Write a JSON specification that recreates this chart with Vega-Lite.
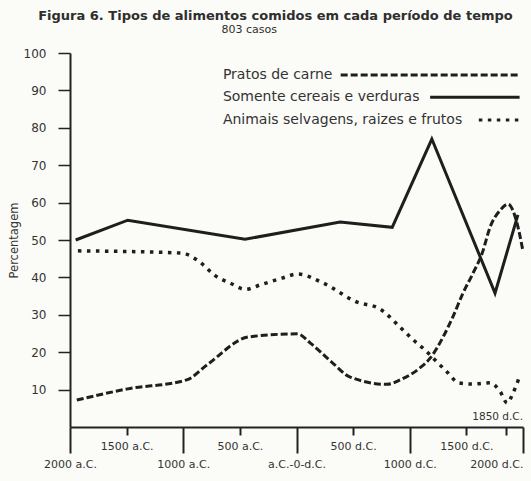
{
  "$schema": "https://vega.github.io/schema/vega-lite/v6.json",
  "width": 453,
  "height": 374,
  "autosize": {"type": "none"},
  "padding": {"left": 70, "top": 53, "right": 8, "bottom": 54},
  "background": "#fbfbf8",
  "title": {
    "text": "Figura 6. Tipos de alimentos comidos em cada período de tempo",
    "subtitle": "803 casos\u00a0\u00a0\u00a0\u00a0\u00a0\u00a0\u00a0\u00a0\u00a0\u00a0\u00a0\u00a0\u00a0\u00a0\u00a0\u200b",
    "font": "DejaVu Sans",
    "fontSize": 13,
    "fontWeight": "bold",
    "color": "#2e2e2e",
    "subtitleFont": "DejaVu Sans",
    "subtitleFontSize": 11,
    "subtitleColor": "#2e2e2e",
    "subtitlePadding": 1,
    "anchor": "middle",
    "dx": -21,
    "offset": 12
  },
  "datasets": {
    "series": [
      {"serie": "Somente cereais e verduras", "ano": -1950, "valor": 50.0},
      {"serie": "Somente cereais e verduras", "ano": -1490, "valor": 55.3},
      {"serie": "Somente cereais e verduras", "ano": -455, "valor": 50.2},
      {"serie": "Somente cereais e verduras", "ano": 385, "valor": 54.8},
      {"serie": "Somente cereais e verduras", "ano": 845, "valor": 53.4},
      {"serie": "Somente cereais e verduras", "ano": 1195, "valor": 77.0},
      {"serie": "Somente cereais e verduras", "ano": 1753, "valor": 35.8},
      {"serie": "Somente cereais e verduras", "ano": 1955, "valor": 56.7},
      {"serie": "Pratos de carne", "ano": -1940, "valor": 7.2},
      {"serie": "Pratos de carne", "ano": -1490, "valor": 10.2},
      {"serie": "Pratos de carne", "ano": -970, "valor": 12.6},
      {"serie": "Pratos de carne", "ano": -790, "valor": 16.6},
      {"serie": "Pratos de carne", "ano": -420, "valor": 24.1},
      {"serie": "Pratos de carne", "ano": 10, "valor": 24.9},
      {"serie": "Pratos de carne", "ano": 120, "valor": 22.5},
      {"serie": "Pratos de carne", "ano": 320, "valor": 17.1},
      {"serie": "Pratos de carne", "ano": 470, "valor": 13.4},
      {"serie": "Pratos de carne", "ano": 800, "valor": 11.4},
      {"serie": "Pratos de carne", "ano": 915, "valor": 12.6},
      {"serie": "Pratos de carne", "ano": 1090, "valor": 15.8},
      {"serie": "Pratos de carne", "ano": 1180, "valor": 18.4},
      {"serie": "Pratos de carne", "ano": 1295, "valor": 24.1},
      {"serie": "Pratos de carne", "ano": 1380, "valor": 29.4},
      {"serie": "Pratos de carne", "ano": 1470, "valor": 35.8},
      {"serie": "Pratos de carne", "ano": 1560, "valor": 41.2},
      {"serie": "Pratos de carne", "ano": 1640, "valor": 46.5},
      {"serie": "Pratos de carne", "ano": 1710, "valor": 53.5},
      {"serie": "Pratos de carne", "ano": 1800, "valor": 58.0},
      {"serie": "Pratos de carne", "ano": 1868, "valor": 59.6},
      {"serie": "Pratos de carne", "ano": 1947, "valor": 54.5},
      {"serie": "Pratos de carne", "ano": 2000, "valor": 47.0},
      {"serie": "Animais selvagens, raizes e frutos", "ano": -1930, "valor": 47.1},
      {"serie": "Animais selvagens, raizes e frutos", "ano": -1010, "valor": 46.5},
      {"serie": "Animais selvagens, raizes e frutos", "ano": -880, "valor": 44.7},
      {"serie": "Animais selvagens, raizes e frutos", "ano": -700, "valor": 40.1},
      {"serie": "Animais selvagens, raizes e frutos", "ano": -587, "valor": 38.5},
      {"serie": "Animais selvagens, raizes e frutos", "ano": -450, "valor": 36.8},
      {"serie": "Animais selvagens, raizes e frutos", "ano": -320, "valor": 38.0},
      {"serie": "Animais selvagens, raizes e frutos", "ano": -128, "valor": 39.8},
      {"serie": "Animais selvagens, raizes e frutos", "ano": 10, "valor": 40.9},
      {"serie": "Animais selvagens, raizes e frutos", "ano": 235, "valor": 38.5},
      {"serie": "Animais selvagens, raizes e frutos", "ano": 535, "valor": 33.4},
      {"serie": "Animais selvagens, raizes e frutos", "ano": 735, "valor": 31.6},
      {"serie": "Animais selvagens, raizes e frutos", "ano": 915, "valor": 26.7},
      {"serie": "Animais selvagens, raizes e frutos", "ano": 1030, "valor": 23.3},
      {"serie": "Animais selvagens, raizes e frutos", "ano": 1135, "valor": 20.6},
      {"serie": "Animais selvagens, raizes e frutos", "ano": 1240, "valor": 17.4},
      {"serie": "Animais selvagens, raizes e frutos", "ano": 1340, "valor": 14.4},
      {"serie": "Animais selvagens, raizes e frutos", "ano": 1430, "valor": 11.8},
      {"serie": "Animais selvagens, raizes e frutos", "ano": 1550, "valor": 11.5},
      {"serie": "Animais selvagens, raizes e frutos", "ano": 1710, "valor": 11.8},
      {"serie": "Animais selvagens, raizes e frutos", "ano": 1800, "valor": 9.4},
      {"serie": "Animais selvagens, raizes e frutos", "ano": 1860, "valor": 6.4},
      {"serie": "Animais selvagens, raizes e frutos", "ano": 1912, "valor": 9.1},
      {"serie": "Animais selvagens, raizes e frutos", "ano": 1965, "valor": 13.1}
    ],
    "legenda": [
      {"serie": "Pratos de carne", "ano": -650, "ano2": 1970, "inicio": 390, "valor": 94.1},
      {"serie": "Somente cereais e verduras", "ano": -650, "ano2": 1970, "inicio": 1180, "valor": 88.2},
      {"serie": "Animais selvagens, raizes e frutos", "ano": -650, "ano2": 1970, "inicio": 1610, "valor": 82.1}
    ],
    "rotulos": [
      {"rotulo": "1850 d.C.", "ano": 2000, "valor": 2.7}
    ]
  },
  "encoding": {
    "x": {
      "field": "ano",
      "type": "quantitative",
      "scale": {"domain": [-2000, 2000], "nice": false, "zero": false},
      "axis": {
        "title": null,
        "values": [-2000, -1500, -1000, -500, 0, 500, 1000, 1500, 1850, 2000],
        "labelExpr": "datum.value == 0 ? 'a.C.-0-d.C.' : (datum.value == 1850 ? '' : (datum.value < 0 ? (-datum.value) + ' a.C.' : datum.value + ' d.C.'))",
        "tickSize": {"condition": {"test": "datum.value % 1000 == 0", "value": 26}, "value": 8},
        "labelAlign": {"condition": {"test": "datum.value == 2000", "value": "right"}, "value": "center"},
        "labelPadding": 5,
        "labelFont": "DejaVu Sans",
        "labelFontSize": 11,
        "labelColor": "#333333",
        "labelBound": false,
        "labelOverlap": false,
        "labelFlush": false,
        "domainColor": "#222222",
        "domainWidth": 2,
        "tickColor": "#222222",
        "tickWidth": 2,
        "grid": false
      }
    },
    "y": {
      "field": "valor",
      "type": "quantitative",
      "scale": {"domain": [0, 100], "nice": false},
      "axis": {
        "title": "Percentagem",
        "titleFont": "DejaVu Sans",
        "titleFontSize": 11.5,
        "titleFontWeight": "normal",
        "titleColor": "#333333",
        "titlePadding": 4,
        "values": [10, 20, 30, 40, 50, 60, 70, 80, 90, 100],
        "labelFont": "DejaVu Sans",
        "labelFontSize": 12,
        "labelColor": "#333333",
        "labelPadding": 12,
        "tickSize": 12,
        "tickColor": "#222222",
        "tickWidth": 1.5,
        "domainColor": "#222222",
        "domainWidth": 2,
        "grid": false
      }
    }
  },
  "layer": [
    {
      "data": {"name": "series"},
      "transform": [{"filter": "datum.serie == 'Somente cereais e verduras'"}],
      "mark": {"type": "line", "color": "#1e1e1e", "strokeWidth": 3, "interpolate": "linear", "strokeJoin": "miter"},
      "encoding": {}
    },
    {
      "data": {"name": "series"},
      "transform": [{"filter": "datum.serie == 'Pratos de carne'"}],
      "mark": {"type": "line", "color": "#1e1e1e", "strokeWidth": 3, "interpolate": "monotone", "strokeDash": [7, 3]},
      "encoding": {}
    },
    {
      "data": {"name": "series"},
      "transform": [{"filter": "datum.serie == 'Animais selvagens, raizes e frutos'"}],
      "mark": {"type": "line", "color": "#1e1e1e", "strokeWidth": 3.5, "interpolate": "monotone", "strokeDash": [3.5, 5.5]},
      "encoding": {}
    },
    {
      "data": {"name": "legenda"},
      "mark": {"type": "text", "align": "left", "baseline": "middle", "font": "DejaVu Sans", "fontSize": 14, "color": "#333333"},
      "encoding": {"text": {"field": "serie"}}
    },
    {
      "data": {"name": "legenda"},
      "mark": {"type": "rule", "color": "#1e1e1e", "strokeWidth": 3},
      "encoding": {
        "x": {"field": "inicio", "type": "quantitative"},
        "x2": {"field": "ano2"},
        "strokeDash": {
          "field": "serie",
          "type": "nominal",
          "scale": {
            "domain": ["Pratos de carne", "Somente cereais e verduras", "Animais selvagens, raizes e frutos"],
            "range": [[7, 3], [1, 0], [3.5, 5.5]]
          },
          "legend": null
        }
      }
    },
    {
      "data": {"name": "rotulos"},
      "mark": {"type": "text", "align": "right", "baseline": "middle", "font": "DejaVu Sans", "fontSize": 10.5, "color": "#333333"},
      "encoding": {"text": {"field": "rotulo"}}
    }
  ],
  "config": {"view": {"stroke": null}}
}
